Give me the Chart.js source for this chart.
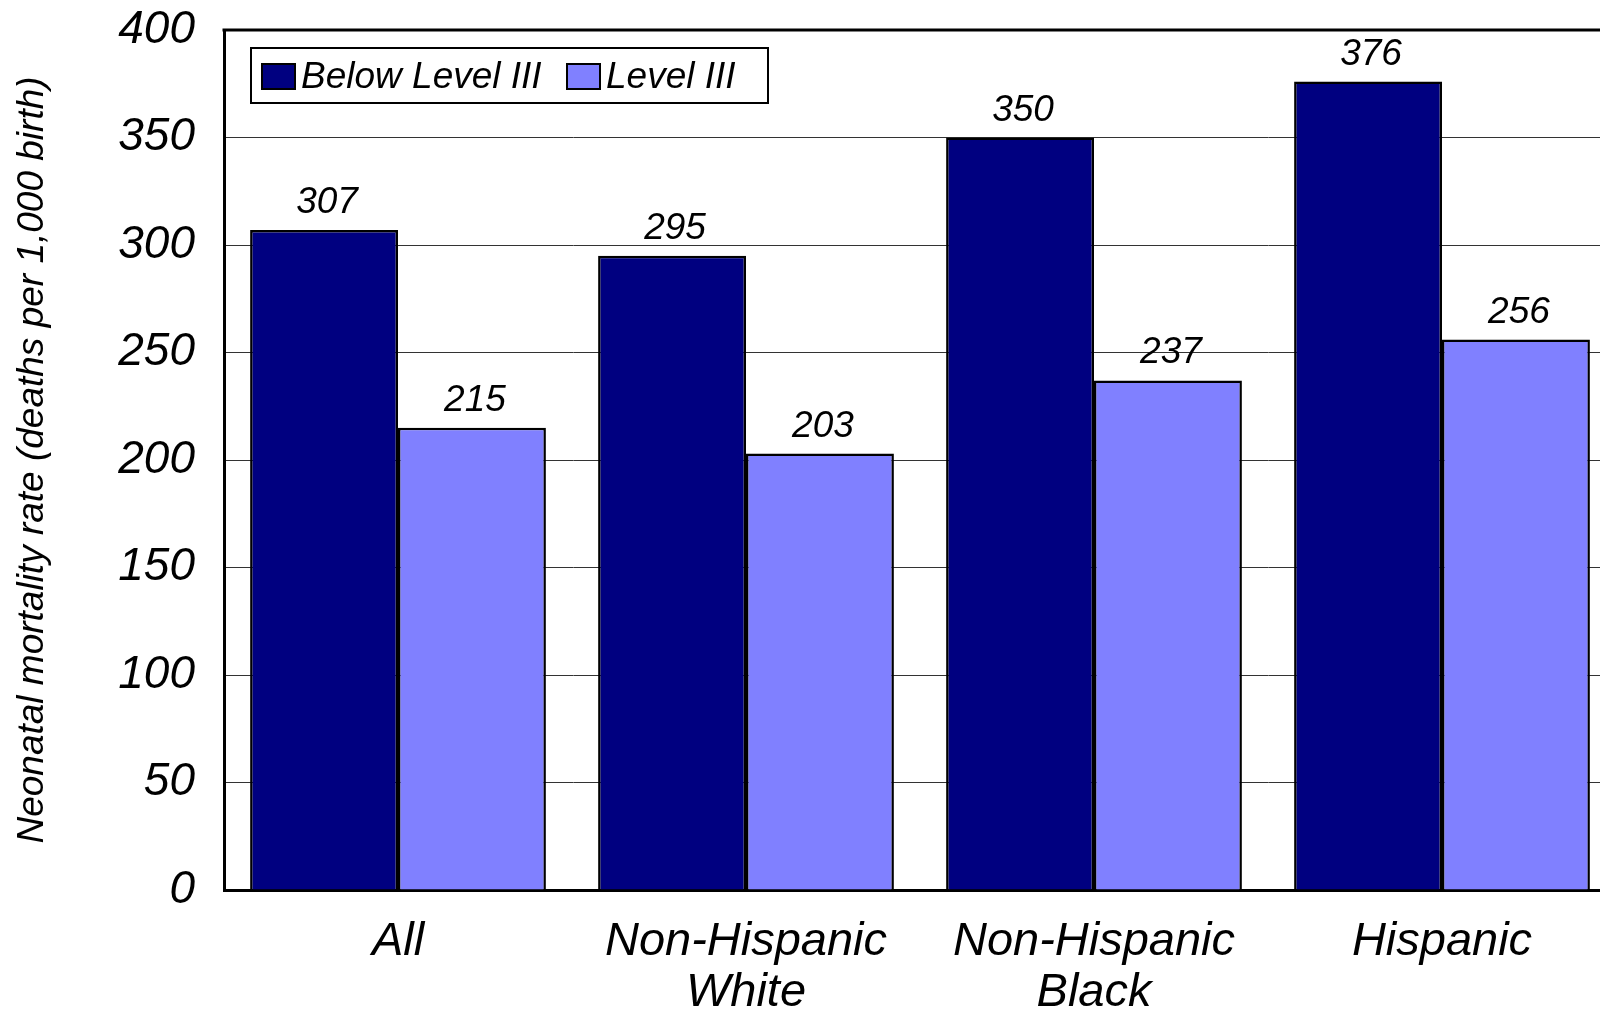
<!DOCTYPE html>
<html><head><meta charset="utf-8">
<script src="https://cdn.jsdelivr.net/npm/chart.js@4.4.1/dist/chart.umd.min.js"></script>
<style>
html,body{margin:0;padding:0;background:#fff;overflow:hidden;width:1600px;height:1014px;}
#wrap{position:absolute;left:0;top:0;width:1640px;height:1014px;}
</style></head><body>
<div id="wrap"><canvas id="c" width="1640" height="1014"></canvas></div>
<script>
// Neonatal mortality by hospital NICU level and ethnic group
const categories = [['All'], ['Non-Hispanic', 'White'], ['Non-Hispanic', 'Black'], ['Hispanic']];
const seriesNames = ['Below Level III', 'Level III'];
const belowLevel3 = [307, 295, 350, 376];
const level3 = [215, 203, 237, 256];
const yMin = 0, yMax = 400, yStep = 50;
const yTitle = 'Neonatal mortality rate (deaths per 1,000 birth)';

const FONT = '"Liberation Sans", Arial, sans-serif';
const DARK = '#000080';
const LIGHT = '#8080FF';

// Frame line along the top (and right) of the plot area
const frame = {
  id: 'frame',
  afterDraw(chart) {
    const { ctx, chartArea: a } = chart;
    ctx.save();
    ctx.strokeStyle = '#000';
    ctx.lineWidth = 3;
    ctx.beginPath();
    ctx.moveTo(a.left - 1.5, a.top);
    ctx.lineTo(a.right, a.top);
    ctx.lineTo(a.right, a.bottom);
    ctx.stroke();
    ctx.restore();
  }
};

// Value written above every bar
const valueLabels = {
  id: 'valueLabels',
  afterDatasetsDraw(chart) {
    const ctx = chart.ctx;
    ctx.save();
    ctx.font = 'italic 37px ' + FONT;
    ctx.fillStyle = '#000';
    ctx.textAlign = 'center';
    ctx.textBaseline = 'alphabetic';
    chart.data.datasets.forEach((ds, di) => {
      chart.getDatasetMeta(di).data.forEach((bar, i) => {
        ctx.fillText(String(ds.data[i]), bar.x + 3, bar.y - 17);
      });
    });
    ctx.restore();
  }
};

// Boxed legend inside the plot area, top left
const boxLegend = {
  id: 'boxLegend',
  afterDraw(chart) {
    const ctx = chart.ctx;
    const bx = 251, by = 48, bw = 517, bh = 55;
    ctx.save();
    ctx.fillStyle = '#fff';
    ctx.fillRect(bx, by, bw, bh);
    ctx.strokeStyle = '#000';
    ctx.lineWidth = 2;
    ctx.strokeRect(bx, by, bw, bh);
    ctx.font = 'italic 37px ' + FONT;
    ctx.textBaseline = 'middle';
    ctx.textAlign = 'left';
    const swatchX = [262, 567];
    chart.data.datasets.forEach((ds, i) => {
      const sx = swatchX[i], sy = 64;
      ctx.fillStyle = ds.backgroundColor;
      ctx.fillRect(sx, sy, 33, 25);
      ctx.lineWidth = 2;
      ctx.strokeStyle = '#000';
      ctx.strokeRect(sx, sy, 33, 25);
      ctx.fillStyle = '#000';
      ctx.fillText(ds.label, sx + 39, 78);
    });
    ctx.restore();
  }
};

new Chart(document.getElementById('c'), {
  type: 'bar',
  data: {
    labels: categories,
    datasets: [
      { label: seriesNames[0], data: belowLevel3, backgroundColor: DARK, borderColor: '#000', borderWidth: 2.5 },
      { label: seriesNames[1], data: level3, backgroundColor: LIGHT, borderColor: '#000', borderWidth: 2.5 }
    ]
  },
  options: {
    responsive: false,
    animation: false,
    devicePixelRatio: 1,
    layout: { padding: { top: 30, right: 24, bottom: 0, left: 0 } },
    datasets: { bar: { categoryPercentage: 0.85, barPercentage: 1.0 } },
    plugins: { legend: { display: false }, tooltip: { enabled: false } },
    scales: {
      x: {
        offset: true,
        grid: { display: false, drawTicks: false },
        border: { display: true, color: '#000', width: 3 },
        ticks: {
          color: '#000', padding: 27, maxRotation: 0, autoSkip: false,
          font: { family: FONT, style: 'italic', size: 47, lineHeight: 1.07 }
        },
        afterFit(scale) {
          scale.height = 124;
          scale.paddingLeft = 0; scale.paddingRight = 0;
        }
      },
      y: {
        min: yMin, max: yMax,
        grid: { color: '#333', lineWidth: 1, drawTicks: false },
        border: { display: true, color: '#000', width: 3 },
        ticks: {
          stepSize: yStep, color: '#000', padding: 29,
          font: { family: FONT, style: 'italic', size: 46 }
        },
        title: {
          display: true, text: yTitle, color: '#000',
          padding: { top: 11, bottom: 0 },
          font: { family: FONT, style: 'italic', size: 37 }
        },
        afterFit(scale) {
          scale.width = 224;
          scale.paddingTop = 0; scale.paddingBottom = 0;
        }
      }
    }
  },
  plugins: [frame, valueLabels, boxLegend]
});
</script>
</body></html>
